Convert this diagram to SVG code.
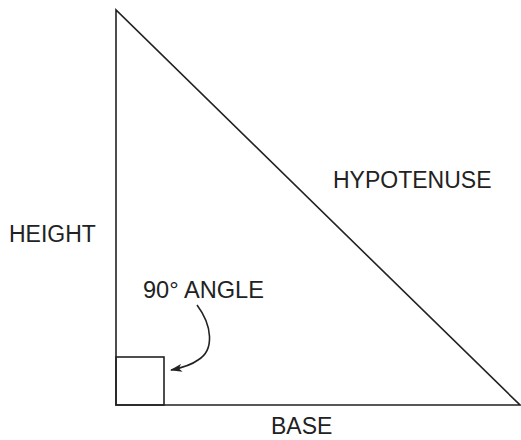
<svg xmlns="http://www.w3.org/2000/svg" width="521" height="440" viewBox="0 0 521 440">
<defs>
<style>
.t{font-family:"Liberation Sans",Arial,sans-serif;font-size:23px;fill:#222}
.l{fill:none;stroke:#222;stroke-width:1.6}
</style>
<marker id="ah" markerWidth="12" markerHeight="8" refX="11" refY="4" orient="auto" markerUnits="userSpaceOnUse">
<path d="M0,0 L12,4 L0,8 L3,4 Z" fill="#222"/>
</marker>
</defs>
<rect width="521" height="440" fill="#fff"/>
<g id="triangle">
<path class="l" d="M116,10 L116,405 L520,405 Z"/>
</g>
<g id="right-angle">
<rect class="l" x="116" y="357" width="48" height="48"/>
</g>
<g id="connectors">
<path class="l" d="M197,305 C212,325 215,350 198,360 C190,366 181,368 171,370" marker-end="url(#ah)"/>
</g>
<g id="labels">
<text class="t" x="9" y="242">HEIGHT</text>
<text class="t" x="333" y="188">HYPOTENUSE</text>
<text class="t" x="143" y="298" style="font-size:23.6px">90° ANGLE</text>
<text class="t" x="271" y="434">BASE</text>
</g>
</svg>
